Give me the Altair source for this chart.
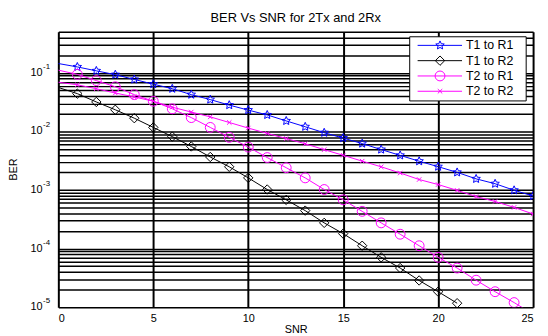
import math
import altair as alt
import pandas as pd

# ---------------- data ----------------
snr = list(range(26))
series = ["T1 to R1", "T1 to R2", "T2 to R1", "T2 to R2"]
colors = ["#0000ff", "#000000", "#ff00ff", "#ff00ff"]

ber_t1r1 = [0.144, 0.126, 0.108, 0.093, 0.077, 0.064, 0.0535, 0.0424, 0.0349, 0.0281,
            0.0231, 0.0191, 0.0151, 0.0120, 0.0095, 0.0077, 0.0062, 0.0049, 0.0039, 0.0031,
            0.0025, 0.0020, 0.00155, 0.00128, 0.00099, 0.00079]
ber_t1r2 = [0.0562, 0.0441, 0.0318, 0.0234, 0.0168, 0.0117, 0.00815, 0.00553, 0.00366, 0.00249,
            0.00161, 0.00102, 0.000679, 0.000445, 0.000275, 0.000180, 0.000112, 7.1e-5, 4.66e-5,
            2.86e-5, 1.84e-5, 1.17e-5]
ber_t2r1 = [0.111, 0.094, 0.0736, 0.0578, 0.0424, 0.0327, 0.0243, 0.0172, 0.0117, 0.00792,
            0.0054, 0.00358, 0.0024, 0.00161, 0.00102, 0.00068, 0.000432, 0.000275, 0.000176,
            0.000112, 7.1e-5, 4.66e-5, 2.89e-5, 1.84e-5, 1.2e-5, 7.6e-6]
ber_t2r2 = [0.069, 0.0624, 0.0535, 0.0452, 0.0387, 0.0327, 0.0259, 0.0214, 0.0177, 0.0142,
            0.0114, 0.00925, 0.00755, 0.00615, 0.00488, 0.00391, 0.00311, 0.00249, 0.00195,
            0.00151, 0.00124, 0.000985, 0.000773, 0.000637, 0.000505, 0.00039]

x_ticks = [0, 5, 10, 15, 20, 25]
decade_exps = [-5, -4, -3, -2, -1]
minor_mults = [1, 2, 3, 4, 5, 6, 7, 8, 9]
top_mults = [2, 3, 4, 5]

# ---------------- styling helpers ----------------
FONT = "Liberation Sans"
W, H = 481, 279


def star_path(r_out, r_in):
    pts = []
    for i in range(10):
        a = math.radians(-90 + 36 * i)
        r = r_out if i % 2 == 0 else r_in
        pts.append(f"{r * math.cos(a):.3f},{r * math.sin(a):.3f}")
    return "M" + "L".join(pts) + "Z"


shapes = [
    star_path(0.9, 0.42),
    "M0,-0.95L0.95,0L0,0.95L-0.95,0Z",
    "M1,0A1,1 0 1,1 -1,0A1,1 0 1,1 1,0Z",
    "M-0.45,-0.45L0.45,0.45M0.45,-0.45L-0.45,0.45",
]

rows = []
for name, vals in zip(series, [ber_t1r1, ber_t1r2, ber_t2r1, ber_t2r2]):
    for s, b in zip(snr, vals):
        rows.append({"series": name, "snr": s, "ber": b})
df = pd.DataFrame(rows)

y_grid = [m * 10.0 ** e for e in decade_exps for m in minor_mults] + [m * 0.1 for m in top_mults]

x_enc = alt.X(
    "snr:Q",
    scale=alt.Scale(domain=[0, 25], nice=False, zero=False),
    axis=alt.Axis(
        values=x_ticks, title="SNR", grid=True, gridColor="black", gridWidth=2,
        gridOpacity=1, ticks=False, tickSize=0, domain=False, labelFont=FONT,
        labelFontSize=11, labelColor="black", labelPadding=5, titleFont=FONT,
        titleFontSize=11, titleFontWeight="normal", titleColor="black", titlePadding=1,
    ),
)
y_scale = alt.Scale(type="log", domain=[1e-5, 0.5], nice=False)
y_enc = alt.Y(
    "ber:Q",
    scale=y_scale,
    axis=alt.Axis(
        values=y_grid, labels=False, ticks=False, tickSize=0, title=None, grid=True,
        gridColor="black", gridWidth=1.5, gridOpacity=1, domain=False,
    ),
)
color_enc = alt.Color("series:N", scale=alt.Scale(domain=series, range=colors), legend=None)
shape_enc = alt.Shape("series:N", scale=alt.Scale(domain=series, range=shapes), legend=None)

lines = alt.Chart(df).mark_line(strokeWidth=1, clip=True).encode(
    x=x_enc, y=y_enc, color=color_enc
)
points = alt.Chart(df).transform_filter(alt.datum.snr >= 1).mark_point(
    filled=False, strokeWidth=1, size=100, opacity=1, clip=True
).encode(
    x=alt.X("snr:Q"), y=alt.Y("ber:Q"), stroke=color_enc, shape=shape_enc
)

# y tick labels 10^k drawn as base + superscript exponent
dec_df = pd.DataFrame({
    "ber": [10.0 ** e for e in decade_exps],
    "base": ["10"] * len(decade_exps),
    "exp": [str(e) for e in decade_exps],
})
base_text = alt.Chart(dec_df).mark_text(
    align="right", baseline="middle", font=FONT, fontSize=11, color="black"
).encode(x=alt.value(-16), y=alt.Y("ber:Q"), text=alt.Text("base:N"))
exp_text = alt.Chart(dec_df).mark_text(
    align="left", baseline="middle", font=FONT, fontSize=8, color="black", dy=-6
).encode(x=alt.value(-15.5), y=alt.Y("ber:Q"), text=alt.Text("exp:N"))

ylabel = alt.Chart(pd.DataFrame({"t": ["BER"]})).mark_text(
    angle=270, baseline="middle", align="center", font=FONT, fontSize=11, color="black"
).encode(x=alt.value(-45), y=alt.value(H / 2), text=alt.Text("t:N"))

# legend box drawn by hand (matlab style: line + marker + label)
legend_layers = [
    alt.Chart(pd.DataFrame({"a": [0]})).mark_rect(
        fill="white", stroke="black", strokeWidth=1
    ).encode(x=alt.value(356), x2=alt.value(474), y=alt.value(5), y2=alt.value(70))
]
row_y = [13.7, 29.2, 44.7, 60.2]
for i, name in enumerate(series):
    d = pd.DataFrame({"series": [name]})
    legend_layers.append(
        alt.Chart(d).mark_rule(strokeWidth=1, color=colors[i]).encode(
            x=alt.value(364), x2=alt.value(409), y=alt.value(row_y[i])
        )
    )
    legend_layers.append(
        alt.Chart(d).mark_point(filled=False, strokeWidth=1, size=100, opacity=1,
                                color=colors[i]).encode(
            x=alt.value(386.7), y=alt.value(row_y[i]), shape=alt.value(shapes[i])
        )
    )
    legend_layers.append(
        alt.Chart(d).mark_text(align="left", baseline="middle", font=FONT, fontSize=12.5,
                               color="black").encode(
            x=alt.value(413), y=alt.value(row_y[i]), text=alt.Text("series:N")
        )
    )

chart = alt.layer(lines, points, base_text, exp_text, ylabel, *legend_layers).properties(
    width=W,
    height=H,
    title=alt.TitleParams(
        "BER Vs SNR for 2Tx and 2Rx", font=FONT, fontSize=13, fontWeight="normal",
        color="black", anchor="middle", offset=7,
    ),
    autosize=alt.AutoSizeParams(type="none"),
    padding={"left": 51, "top": 22, "right": 7, "bottom": 26},
).configure_view(stroke="black", strokeWidth=2).configure(background="white")

chart.save("out.html", embed_options={"renderer": "svg", "actions": False})
